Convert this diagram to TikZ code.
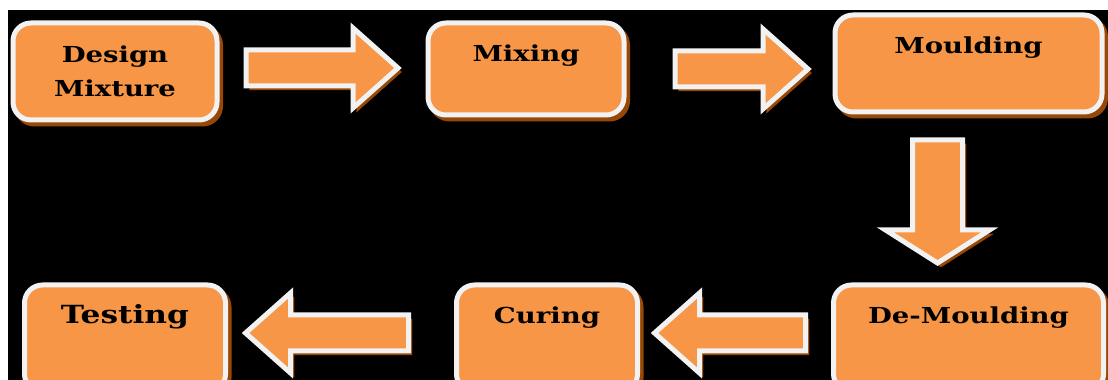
\documentclass[tikz,border=0pt]{standalone}
\usepackage{fontspec}
\newfontfamily\boxfont{DejaVu Serif}[FakeStretch=1.25]
\usetikzlibrary{positioning,calc}
\definecolor{boxorange}{RGB}{247,150,70}
\definecolor{boxshadow}{RGB}{152,72,6}
\definecolor{boxrim}{RGB}{242,242,242}
\tikzset{
  dropshade/.style={preaction={draw=boxshadow,fill=boxshadow,transform canvas={shift={(3.5pt,-4pt)}}}},
  procbox/.style={dropshade,rectangle,rounded corners=18pt,fill=boxorange,draw=boxrim,line width=5pt,
    inner ysep=0pt,outer sep=0pt,font=\boxfont\bfseries\fontsize{22}{34}\selectfont},
  topbox/.style={procbox,text height=39pt,text depth=#1},
  arrowbody/.style={dropshade,fill=boxorange,draw=boxrim,line width=5pt,line join=miter}
}
% block arrow: tail, tip, half shaft, half head, head length
\newcommand\blockarrow[5]{%
  \coordinate (hb) at ($(#2)!#5!(#1)$);
  \draw[arrowbody] ($(#1)!#3!90:(#2)$) -- ($(hb)!#3!90:(#2)$) -- ($(hb)!#4!90:(#2)$) -- (#2)
    -- ($(hb)!#4!-90:(#2)$) -- ($(hb)!#3!-90:(#2)$) -- ($(#1)!#3!-90:(#2)$) -- cycle;}

\begin{document}
\begin{tikzpicture}[x=1pt,y=1pt]
  \useasboundingbox (0,0) rectangle (1108,380);
  \clip (0,0) rectangle (1108,380);
  \fill[white] (0,0) rectangle (1108,380);
  \fill[black] (8,0) rectangle (1108,370);

  \node[procbox,minimum width=204pt,minimum height=97pt,align=center] (design) at (115,308.5) {Design\\Mixture};
  \node[topbox=53pt,minimum width=196pt,right=211pt of design,yshift=2.5pt] (mixing) {Mixing};
  \node[topbox=58pt,minimum width=267pt,right=211pt of mixing,yshift=5.5pt] (moulding) {Moulding};
  \node[topbox=68pt,minimum width=270pt,below=173pt of moulding] (demoulding) {De-Moulding};
  \node[topbox=68pt,minimum width=181pt,left=196pt of demoulding] (curing) {Curing};
  \node[topbox=68pt,minimum width=201pt,left=231pt of curing,font=\boxfont\bfseries\fontsize{25}{30}\selectfont] (testing) {Testing};

  \coordinate (a1s) at ([xshift=29pt,yshift=3.5pt]design.east);
  \coordinate (a1t) at ([xshift=-30pt]a1s -| mixing.west);
  \coordinate (a2s) at ([xshift=51pt]mixing.east);
  \coordinate (a2t) at ([xshift=-27pt]a2s -| moulding.west);
  \coordinate (a3s) at ([shift={(-31pt,-28pt)}]moulding.south);
  \coordinate (a3t) at ([yshift=22pt]a3s |- demoulding.north);
  \coordinate (a4s) at ([shift={(-28pt,5.5pt)}]demoulding.west);
  \coordinate (a4t) at ([xshift=17pt]a4s -| curing.east);
  \coordinate (a5s) at ([xshift=-48pt]a4s -| curing.west);
  \coordinate (a5t) at ([xshift=20pt]a5s -| testing.east);

  \blockarrow{a1s}{a1t}{18pt}{40pt}{45pt}
  \blockarrow{a2s}{a2t}{18pt}{40pt}{45pt}
  \blockarrow{a3s}{a3t}{25pt}{52pt}{33pt}
  \blockarrow{a4s}{a4t}{18pt}{40pt}{45pt}
  \blockarrow{a5s}{a5t}{18pt}{40pt}{45pt}
\end{tikzpicture}
\end{document}
